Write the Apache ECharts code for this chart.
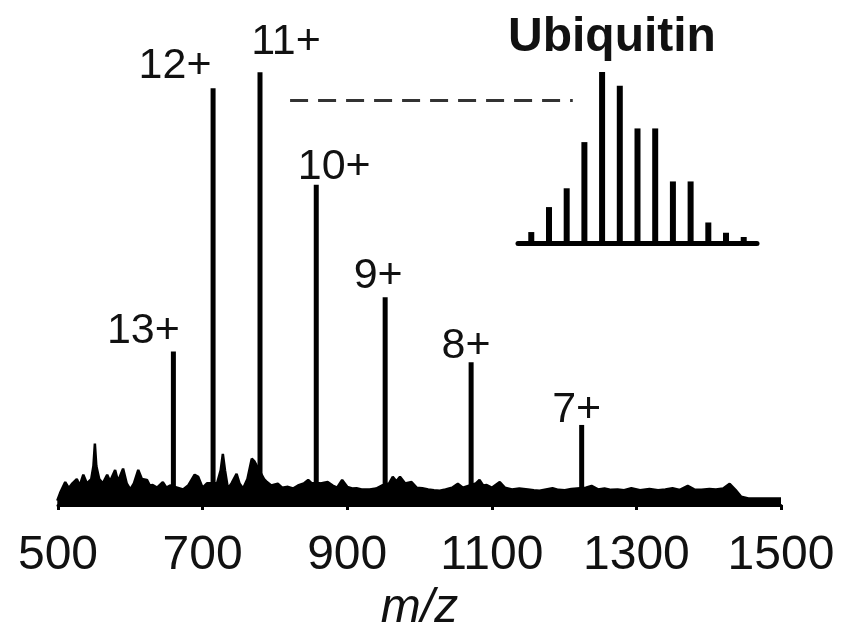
<!DOCTYPE html>
<html>
<head>
<meta charset="utf-8">
<script src="https://cdn.jsdelivr.net/npm/echarts@6/dist/echarts.min.js"></script>
<style>
html, body { margin: 0; padding: 0; background: #fff; }
#spectrum { width: 863px; height: 628px; }
</style>
</head>
<body>
<div id="spectrum"></div>
<script>
// charge state peaks of ubiquitin
const chargeLabels = ['13+', '12+', '11+', '10+', '9+', '8+', '7+'];
const peakMz = [659.6, 714.5, 779.4, 857.2, 952.5, 1071.4, 1224.3];
const peakHeight = [35.5, 96.3, 100, 74, 48, 33, 18.5];

// baseline / noise trace
const noiseMz = [499, 503, 510, 515, 520, 526, 530, 535, 540, 546, 549, 551, 553, 557, 562, 568, 572, 579, 583, 590,
	595, 600, 605, 611, 616, 623, 627, 631, 637, 645, 650, 655, 665, 673, 680, 689, 694, 700, 706, 720,
	725, 728, 731, 735, 740, 747, 751, 756, 762, 768, 772, 785, 789, 795, 804, 810, 818, 825, 832, 840,
	846, 851, 863, 873, 880, 886, 893, 900, 907, 913, 920, 931, 940, 948, 958, 963, 968, 973, 980, 989,
	996, 1004, 1012, 1020, 1028, 1036, 1045, 1053, 1060, 1078, 1083, 1088, 1093, 1100, 1111, 1118, 1128, 1138, 1150, 1158,
	1166, 1175, 1184, 1192, 1201, 1210, 1230, 1238, 1247, 1256, 1265, 1274, 1283, 1293, 1305, 1318, 1330, 1340, 1350, 1360,
	1371, 1380, 1390, 1401, 1410, 1420, 1429, 1437, 1445, 1455, 1500];
const noiseInt = [1.0, 2.8, 5.3, 3.9, 5.0, 6.0, 4.5, 7.0, 5.0, 6.0, 9.0, 14.2, 9.0, 6.0, 5.0, 7.0, 5.5, 8.1, 5.5, 8.4,
	5.0, 3.6, 5.0, 8.1, 6.0, 5.8, 4.5, 4.6, 4.0, 5.3, 4.0, 4.5, 4.0, 3.6, 4.5, 7.0, 6.5, 4.0, 5.0, 5.0,
	8.0, 11.8, 8.0, 3.8, 5.0, 7.2, 5.0, 3.8, 6.0, 10.7, 10.0, 6.0, 5.3, 4.5, 4.9, 4.0, 4.2, 3.8, 4.5, 5.0,
	5.8, 5.0, 5.0, 5.3, 4.5, 4.0, 5.8, 4.2, 3.8, 3.9, 3.6, 3.6, 3.8, 4.5, 5.0, 6.5, 5.5, 6.5, 5.0, 5.3,
	4.0, 3.9, 3.6, 3.4, 3.3, 3.6, 4.0, 4.9, 4.0, 5.0, 5.8, 4.5, 4.6, 4.0, 5.3, 4.0, 3.6, 3.8, 3.6, 3.4,
	3.3, 3.6, 3.9, 3.5, 3.4, 3.7, 4.0, 4.4, 3.6, 3.8, 3.5, 3.6, 3.4, 3.9, 3.4, 3.7, 3.4, 3.6, 3.9, 3.5,
	4.4, 3.6, 3.5, 3.7, 3.6, 3.8, 4.9, 3.5, 1.9, 1.5, 1.5];

// isotope envelope of the 11+ ion (inset)
const isoIndex = [0, 1, 2, 3, 4, 5, 6, 7, 8, 9, 10, 11, 12];
const isoInt = [6.4, 21, 32, 59, 100, 92, 67, 67, 36, 36, 12, 6, 3.5];

// x axis tick values
const mzTicks = [500, 700, 900, 1100, 1300, 1500];

const font = '"Liberation Sans", Arial, sans-serif';
// label placement beside each peak
const labelOffset = [[-30, 6], [-38, 4], [26, -4], [18, 9], [-7, 5], [-5, 10], [-5, 12]];

const chart = echarts.init(document.getElementById('spectrum'), null, { renderer: 'canvas' });

const noise = noiseMz.map((m, i) => [m, noiseInt[i]]);
const peaks = peakMz.map((m, i) => ({
	value: [m, peakHeight[i]],
	label: { formatter: chargeLabels[i], offset: labelOffset[i] }
}));
const iso = isoIndex.map((k, i) => [k, isoInt[i]]);

const option = {
	animation: false,
	title: {
		text: 'Ubiquitin',
		left: 503,
		top: 9,
		textStyle: { fontFamily: font, fontWeight: 'bold', fontSize: 48, color: '#111' }
	},
	grid: [
		{ left: 58, right: 82, top: 29, bottom: 123, outerBoundsMode: 'none', containLabel: false },
		{ left: 518, width: 239, top: 72, height: 171, outerBoundsMode: 'none', containLabel: false }
	],
	xAxis: [
		{
			type: 'value',
			min: mzTicks[0],
			max: mzTicks[mzTicks.length - 1],
			interval: mzTicks[1] - mzTicks[0],
			offset: 12,
			axisLine: { lineStyle: { color: '#000', width: 3 } },
			axisTick: { length: 5, lineStyle: { color: '#000', width: 3 } },
			splitLine: { show: false },
			axisLabel: {
				fontFamily: font,
				fontSize: 48,
				color: '#111',
				margin: 15,
				formatter: (v) => String(v)
			},
			name: 'm/z',
			nameLocation: 'middle',
			nameGap: 60,
			nameTextStyle: { fontFamily: font, fontStyle: 'italic', fontSize: 48, color: '#111' }
		},
		{
			gridIndex: 1,
			type: 'value',
			min: -0.75,
			max: 12.75,
			axisLine: { lineStyle: { color: '#000', width: 5 } },
			axisTick: { show: false },
			axisLabel: { show: false },
			splitLine: { show: false }
		}
	],
	yAxis: [
		{ type: 'value', min: 0, max: 110, show: false },
		{ gridIndex: 1, type: 'value', min: 0, max: 100, show: false }
	],
	series: [
		{
			type: 'line',
			data: noise,
			showSymbol: false,
			lineStyle: { color: '#000', width: 2.5 },
			areaStyle: { color: '#000', opacity: 1 },
			markLine: {
				silent: true,
				symbol: 'none',
				label: { show: false },
				lineStyle: { color: '#333', width: 3, type: [18, 10] },
				data: [[{ coord: [821, 93.5] }, { coord: [1212, 93.5] }]]
			}
		},
		{
			type: 'bar',
			data: peaks,
			barWidth: 5,
			itemStyle: { color: '#000' },
			label: {
				show: true,
				position: 'top',
				fontFamily: font,
				fontSize: 43,
				color: '#111'
			}
		},
		{
			type: 'bar',
			xAxisIndex: 1,
			yAxisIndex: 1,
			data: iso,
			barWidth: 6,
			itemStyle: { color: '#000' }
		}
	]
};

option && chart.setOption(option);
</script>
</body>
</html>
